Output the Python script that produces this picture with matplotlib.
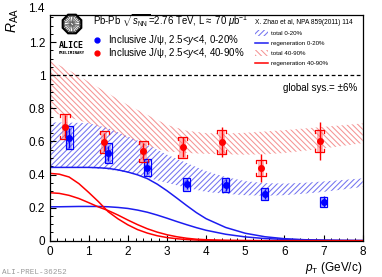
import matplotlib
matplotlib.use("Agg")
import numpy as np
import matplotlib.pyplot as plt
from matplotlib.patches import Rectangle, RegularPolygon, Circle
from matplotlib.lines import Line2D
from matplotlib.ticker import MultipleLocator

plt.rcParams['font.family'] = ['Liberation Sans', 'DejaVu Sans']
plt.rcParams['mathtext.fontset'] = 'custom'
plt.rcParams['mathtext.rm'] = 'Liberation Sans'
plt.rcParams['mathtext.it'] = 'Liberation Sans:italic'
plt.rcParams['hatch.linewidth'] = 0.75

# ── data ─────────────────────────────────────────────
pt_blue   = [0.5, 1.5, 2.5, 3.5, 4.5, 5.5, 7.0]
raa_blue  = [0.622, 0.528, 0.441, 0.340, 0.336, 0.282, 0.236]
stat_blue = [0.060, 0.045, 0.040, 0.030, 0.035, 0.030, 0.035]
sys_blue  = [0.070, 0.060, 0.050, 0.038, 0.040, 0.037, 0.030]

pt_red    = [0.4, 1.4, 2.4, 3.4, 4.4, 5.4, 6.9]
raa_red   = [0.690, 0.595, 0.540, 0.564, 0.598, 0.440, 0.604]
stat_red  = [0.070, 0.055, 0.050, 0.060, 0.090, 0.085, 0.115]
sys_red   = [0.078, 0.068, 0.064, 0.065, 0.072, 0.050, 0.068]

# Zhao model, total bands
th_pt      = [0, 0.5, 1, 1.5, 2, 2.5, 3, 3.5, 4, 4.5, 5, 5.5, 6, 6.5, 7, 7.5, 8]
tot020_hi  = [0.715, 0.714, 0.710, 0.680, 0.630, 0.580, 0.520, 0.470, 0.420,
              0.385, 0.360, 0.348, 0.345, 0.350, 0.358, 0.367, 0.377]
tot020_lo  = [0.445, 0.445, 0.440, 0.430, 0.410, 0.380, 0.350, 0.320, 0.295,
              0.283, 0.275, 0.272, 0.275, 0.284, 0.295, 0.310, 0.325]
tot4090_hi = [1.090, 1.030, 0.960, 0.890, 0.820, 0.760, 0.700, 0.665, 0.650,
              0.648, 0.652, 0.660, 0.668, 0.678, 0.688, 0.698, 0.709]
tot4090_lo = [0.780, 0.745, 0.710, 0.670, 0.620, 0.570, 0.540, 0.530, 0.525,
              0.522, 0.520, 0.522, 0.530, 0.543, 0.558, 0.573, 0.590]

# Zhao model, regeneration component
rg_pt = [0, 0.25, 0.5, 0.75, 1, 1.25, 1.5, 1.75, 2, 2.25, 2.5, 2.75, 3, 3.25,
         3.5, 3.75, 4, 4.5, 5, 5.5, 6, 6.5, 7, 7.5, 8]
rg020_a  = [0.443, 0.443, 0.443, 0.443, 0.443, 0.441, 0.437, 0.428, 0.415, 0.398,
            0.375, 0.342, 0.302, 0.258, 0.213, 0.170, 0.133, 0.080, 0.045, 0.024,
            0.012, 0.006, 0.003, 0.001, 0.0005]
rg020_b  = [0.205, 0.205, 0.206, 0.207, 0.207, 0.207, 0.205, 0.201, 0.195, 0.185,
            0.172, 0.155, 0.136, 0.116, 0.097, 0.079, 0.063, 0.039, 0.023, 0.013,
            0.008, 0.005, 0.003, 0.002, 0.001]
rg4090_a = [0.407, 0.402, 0.385, 0.345, 0.292, 0.236, 0.175, 0.132, 0.096, 0.067,
            0.046, 0.030, 0.019, 0.012, 0.007, 0.004, 0.002, 0.001, 0, 0, 0, 0, 0, 0, 0]
rg4090_b = [0.290, 0.286, 0.274, 0.255, 0.230, 0.204, 0.182, 0.155, 0.125, 0.097,
            0.072, 0.052, 0.036, 0.024, 0.015, 0.009, 0.006, 0.002, 0.001, 0, 0, 0, 0, 0, 0]

xticks = [0, 1, 2, 3, 4, 5, 6, 7, 8]
yticks = [0, 0.2, 0.4, 0.6, 0.8, 1.0, 1.2]
ytick_labels = ["0", "0.2", "0.4", "0.6", "0.8", "1", "1.2"]

BLUE = "#0000ff"
RED = "#ff0000"
HATCH_B = "#7474f0"
HATCH_R = "#f59494"
W, H = 382, 277


def fxy(px, py):
    return px / W, 1 - py / H


fig = plt.figure(figsize=(W / 100, H / 100), dpi=100)
ax = fig.add_axes([49.5 / W, 1 - 240.7 / H, 313.2 / W, 225.7 / H])

# ── theory bands & curves ────────────────────────────
ax.fill_between(th_pt, tot4090_lo, tot4090_hi, facecolor="none",
                edgecolor=HATCH_R, hatch="\\\\\\\\\\\\", linewidth=0)
ax.fill_between(th_pt, tot020_lo, tot020_hi, facecolor="none",
                edgecolor=HATCH_B, hatch="//////", linewidth=0)
for curve in (rg020_a, rg020_b):
    ax.plot(rg_pt, curve, color="#1c1cf0", lw=1.1)
for curve in (rg4090_a, rg4090_b):
    ax.plot(rg_pt, curve, color=RED, lw=1.1)

ax.axhline(1.0, color="black", ls=(0, (3, 2)), lw=0.9)

# ── data points ──────────────────────────────────────
for x, y, s in zip(pt_red, raa_red, sys_red):
    ax.add_patch(Rectangle((x - 0.08, y - s), 0.16, 2 * s, facecolor="#ff7070",
                           alpha=0.5, edgecolor="none"))
    w, t = 0.12, 0.02
    for sg in (1, -1):
        ax.plot([x - w, x - w, x + w, x + w],
                [y + sg * (s - t), y + sg * s, y + sg * s, y + sg * (s - t)],
                color=RED, lw=0.9)
for x, y, s in zip(pt_blue, raa_blue, sys_blue):
    ax.add_patch(Rectangle((x - 0.075, y - s), 0.15, 2 * s, facecolor="#5050ff",
                           alpha=0.45, edgecolor="none"))
    ax.add_patch(Rectangle((x - 0.09, y - s), 0.18, 2 * s, facecolor="none",
                           edgecolor=BLUE, lw=0.9))

ax.errorbar(pt_red, raa_red, yerr=stat_red, fmt="o", color=RED, ms=4,
            elinewidth=1.0, capsize=0, zorder=5)
ax.errorbar(pt_blue, raa_blue, yerr=stat_blue, fmt="o", color=BLUE, ms=4,
            elinewidth=1.0, capsize=0, zorder=5)

# ── axes style ───────────────────────────────────────
ax.set_xlim(0, 8)
ax.set_ylim(0, 1.364)
ax.set_xticks(xticks)
ax.set_yticks(yticks)
ax.set_yticklabels(ytick_labels)
ax.xaxis.set_minor_locator(MultipleLocator(0.2))
ax.yaxis.set_minor_locator(MultipleLocator(0.05))
ax.tick_params(which="both", direction="in", top=False, right=False,
               labelsize=8.5)
ax.tick_params(which="major", length=4.5, width=0.8)
ax.tick_params(which="minor", length=2.3, width=0.7)
ax.tick_params(axis="y", pad=3)
ax.tick_params(axis="x", pad=4)
for sp in ax.spines.values():
    sp.set_linewidth(0.9)
ax.text(-0.12, 1.4, "1.4", ha="right", va="center", fontsize=8.5, clip_on=False)

fig.text(*fxy(13, 8), r"$R_{\rm AA}$", rotation=90, ha="center", va="top",
         fontsize=10)
fig.text(*fxy(362, 268), r"$p_{\rm T}$ (GeV/c)", ha="right", va="center",
         fontsize=8.5)
fig.text(*fxy(2, 273), "ALI-PREL-36252", ha="left", va="center", fontsize=5.5,
         color="#999999", family="Liberation Mono")

# ── labels & legend ──────────────────────────────────
fig.text(*fxy(93, 21), r"Pb-Pb $\sqrt{s_{\rm NN}}$=2.76 TeV, L$\approx$ 70 $\mu$b$^{-1}$",
         ha="left", va="center", fontsize=6.9)
fig.lines.append(Line2D([97.3 / W], [1 - 40 / H], transform=fig.transFigure,
                        marker="o", ms=3.5, color=BLUE, ls="none"))
fig.lines.append(Line2D([97.3 / W], [1 - 53.3 / H], transform=fig.transFigure,
                        marker="o", ms=3.5, color=RED, ls="none"))
fig.text(*fxy(108, 40), r"Inclusive J/ψ, 2.5<$y$<4, 0-20%", ha="left",
         va="center", fontsize=7.0)
fig.text(*fxy(108, 53.3), r"Inclusive J/ψ, 2.5<$y$<4, 40-90%", ha="left",
         va="center", fontsize=7.0)

fig.text(*fxy(255, 22.7), "X. Zhao et al, NPA 859(2011) 114", ha="left",
         va="center", fontsize=4.8)
fig.patches.append(Rectangle(fxy(255, 35.5), 13 / W, 6 / H, transform=fig.transFigure,
                             facecolor="none", edgecolor=HATCH_B, hatch="//////",
                             linewidth=0))
fig.lines.append(Line2D([255 / W, 268 / W], [1 - 42.7 / H] * 2,
                        transform=fig.transFigure, color="#1c1cf0", lw=1.1))
fig.patches.append(Rectangle(fxy(255, 56), 13 / W, 6 / H, transform=fig.transFigure,
                             facecolor="none", edgecolor=HATCH_R,
                             hatch="\\\\\\\\\\\\", linewidth=0))
fig.lines.append(Line2D([255 / W, 268 / W], [1 - 63.3 / H] * 2,
                        transform=fig.transFigure, color=RED, lw=1.1))
for py, lab in [(33.3, "total 0-20%"), (43, "regeneration 0-20%"),
                (53.3, "total 40-90%"), (63.3, "regeneration 40-90%")]:
    fig.text(*fxy(270.7, py), lab, ha="left", va="center", fontsize=4.4)

fig.text(*fxy(357, 88), "global sys.= ±6%", ha="right", va="center", fontsize=7)

# ── ALICE logo ───────────────────────────────────────
lax = fig.add_axes([61 / W, 1 - 35 / H, 22 / W, 22 / H])
lax.set_xlim(-1.1, 1.1)
lax.set_ylim(-1.1, 1.1)
lax.set_aspect("equal")
lax.axis("off")
lax.add_patch(RegularPolygon((0, 0), 8, radius=1.0, orientation=np.pi / 8,
                             facecolor="white", edgecolor="black", lw=1.6))
for a in np.linspace(0, 2 * np.pi, 24, endpoint=False):
    lax.plot([0.15 * np.cos(a), 0.75 * np.cos(a)],
             [0.15 * np.sin(a), 0.75 * np.sin(a)], color="#555555", lw=0.5)
lax.add_patch(Circle((0, 0), 0.78, facecolor="none", edgecolor="#333333", lw=0.6))
fig.text(*fxy(71.7, 45), "ALICE", ha="center", va="center", fontsize=6,
         fontweight="bold", family="DejaVu Sans Mono")
fig.text(*fxy(71.7, 52.5), "PRELIMINARY", ha="center", va="center", fontsize=2.8,
         fontweight="bold", family="DejaVu Sans Mono")

fig.savefig("out.png", dpi=100)
